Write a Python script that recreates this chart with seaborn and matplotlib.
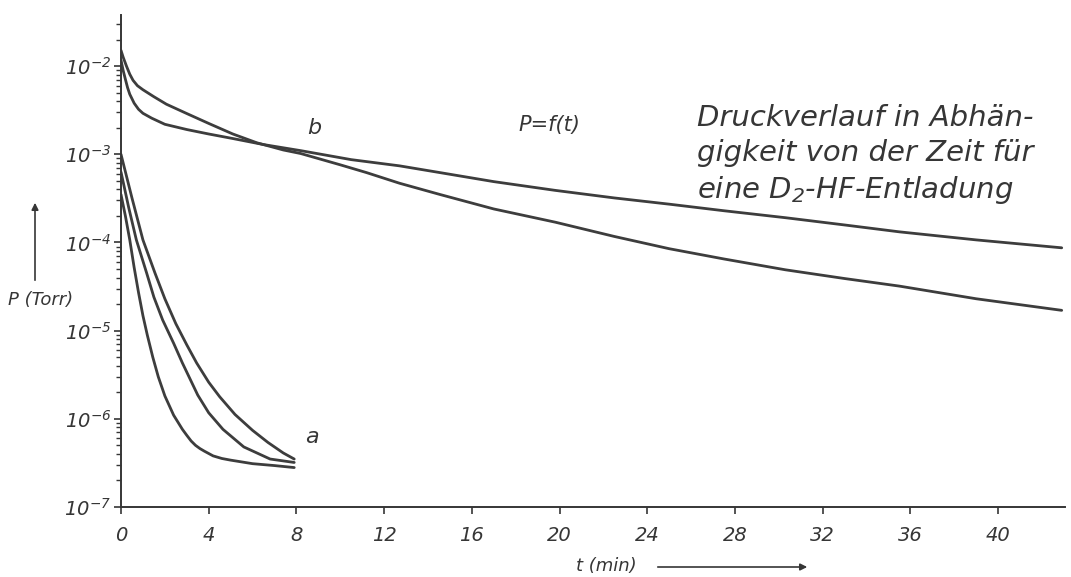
import numpy as np
import pandas as pd
import matplotlib
matplotlib.use("Agg")
import matplotlib.pyplot as plt
from matplotlib.ticker import FixedLocator, FuncFormatter, LogLocator, NullFormatter
import seaborn as sns

# ---- data (t in min, P in Torr) ----
t_b1 = [0, 0.1, 0.25, 0.4, 0.55, 0.75, 1.0, 1.5, 2.07, 3.0, 4.0, 5.1, 6.2, 7.4, 8.2, 10.0,
        11.2, 12.7, 14.55, 17.0, 19.8, 22.5, 25.0, 27.5, 30.3, 33.0, 35.5, 39.0, 42.9]
p_b1 = [1.51e-2, 1.26e-2, 1.0e-2, 8.1e-3, 6.9e-3, 6.0e-3, 5.4e-3, 4.5e-3, 3.7e-3, 2.9e-3,
        2.24e-3, 1.70e-3, 1.35e-3, 1.12e-3, 1.02e-3, 7.6e-4, 6.2e-4, 4.7e-4, 3.5e-4, 2.4e-4,
        1.70e-4, 1.17e-4, 8.5e-5, 6.5e-5, 4.9e-5, 3.9e-5, 3.2e-5, 2.3e-5, 1.7e-5]

t_b2 = [0, 0.1, 0.2, 0.3, 0.4, 0.6, 0.8, 1.0, 1.4, 2.0, 3.0, 4.0, 5.1, 6.5, 8.2, 10.5, 12.7,
        14.55, 17.0, 19.8, 22.5, 25.0, 27.5, 30.3, 33.0, 35.5, 39.0, 42.9]
p_b2 = [1.17e-2, 8.9e-3, 7.1e-3, 5.7e-3, 4.8e-3, 3.8e-3, 3.24e-3, 2.92e-3, 2.57e-3, 2.19e-3,
        1.91e-3, 1.70e-3, 1.51e-3, 1.29e-3, 1.10e-3, 8.7e-4, 7.4e-4, 6.2e-4, 4.9e-4, 3.9e-4,
        3.2e-4, 2.72e-4, 2.29e-4, 1.91e-4, 1.58e-4, 1.32e-4, 1.07e-4, 8.7e-5]

t_a1 = [0, 0.2, 0.4, 0.6, 0.8, 1.0, 1.2, 1.45, 1.7, 2.0, 2.4, 2.8, 3.0, 3.2, 3.4, 3.6, 3.8,
        4.2, 4.6, 5.0, 6.0, 7.0, 7.9]
p_a1 = [3.5e-4, 2.0e-4, 1.07e-4, 5.2e-5, 2.7e-5, 1.48e-5, 8.9e-6, 5.0e-6, 3.0e-6, 1.82e-6,
        1.10e-6, 7.6e-7, 6.5e-7, 5.6e-7, 5.0e-7, 4.6e-7, 4.3e-7, 3.8e-7, 3.55e-7, 3.4e-7,
        3.1e-7, 2.95e-7, 2.8e-7]

t_a2 = [0, 0.35, 0.7, 1.17, 1.5, 1.9, 2.4, 2.8, 3.5, 4.0, 4.65, 5.6, 6.8, 7.9]
p_a2 = [6.3e-4, 2.5e-4, 1.07e-4, 4.5e-5, 2.4e-5, 1.32e-5, 7.2e-6, 4.3e-6, 1.86e-6, 1.17e-6,
        7.6e-7, 4.8e-7, 3.5e-7, 3.2e-7]

t_a3 = [0, 0.5, 1.0, 1.55, 2.0, 2.5, 3.0, 3.45, 4.0, 4.5, 5.2, 6.0, 6.7, 7.4, 7.9]
p_a3 = [1.0e-3, 3.2e-4, 1.07e-4, 4.5e-5, 2.3e-5, 1.2e-5, 6.9e-6, 4.3e-6, 2.6e-6, 1.78e-6,
        1.12e-6, 7.4e-7, 5.4e-7, 4.1e-7, 3.5e-7]

x_ticks = [0, 4, 8, 12, 16, 20, 24, 28, 32, 36, 40]
y_ticks = [1e-7, 1e-6, 1e-5, 1e-4, 1e-3, 1e-2]

curves = {"b1": (t_b1, p_b1), "b2": (t_b2, p_b2),
          "a1": (t_a1, p_a1), "a2": (t_a2, p_a2), "a3": (t_a3, p_a3)}
df = pd.concat([pd.DataFrame({"t": t, "P": p, "curve": k}) for k, (t, p) in curves.items()],
               ignore_index=True)

# ---- style ----
sns.set_style("ticks")
plt.rcParams["font.family"] = ["DejaVu Sans"]
plt.rcParams["font.style"] = "italic"
plt.rcParams["mathtext.fontset"] = "custom"
plt.rcParams["mathtext.it"] = "DejaVu Sans:italic"
plt.rcParams["mathtext.rm"] = "DejaVu Sans:italic"
plt.rcParams["mathtext.default"] = "it"

ink = "#363636"
line_col = "#3d3d3d"

fig = plt.figure(figsize=(10.71, 5.77), dpi=100)
ax = fig.add_axes([121 / 1071, 1 - 507 / 577, (1065 - 121) / 1071, (507 - 15) / 577])

sns.lineplot(data=df, x="t", y="P", units="curve", estimator=None, sort=False,
             color=line_col, lw=2.0, ax=ax)

ax.set_yscale("log")
ax.set_xlim(0, 43.05)
ax.set_ylim(1e-7, 10 ** -1.42)

ax.xaxis.set_major_locator(FixedLocator(x_ticks))
ax.yaxis.set_major_locator(FixedLocator(y_ticks))
ax.yaxis.set_minor_locator(LogLocator(base=10, subs=np.arange(2, 10), numticks=20))
ax.yaxis.set_minor_formatter(NullFormatter())
ax.yaxis.set_major_formatter(FuncFormatter(
    lambda v, _: r"$\mathit{10^{%d}}$" % int(round(np.log10(v)))))
ax.xaxis.set_major_formatter(FuncFormatter(lambda v, _: "%d" % v))

ax.tick_params(axis="both", which="major", direction="out", length=5, width=1.2,
               colors=ink, labelsize=14)
ax.tick_params(axis="x", which="major", pad=9)
ax.tick_params(axis="y", which="major", pad=2)
ax.tick_params(axis="y", which="minor", direction="out", length=3.5, width=1.0, colors=ink)
ax.tick_params(axis="x", which="minor", bottom=False)

for s in ["top", "right"]:
    ax.spines[s].set_visible(False)
for s in ["left", "bottom"]:
    ax.spines[s].set_color(ink)
    ax.spines[s].set_linewidth(1.4)

ax.set_xlabel("")
ax.set_ylabel("")

# annotations
ax.text(8.8, 2.0e-3, "b", fontsize=16, color=ink, ha="center", va="center")
ax.text(8.7, 6.2e-7, "a", fontsize=16, color=ink, ha="center", va="center")
fig.text(0.513, 0.783, "P=f(t)", fontsize=15, color=ink, ha="center", va="center")
fig.text(697 / 1071, 1 - 104 / 577,
         "Druckverlauf in Abhän-\ngigkeit von der Zeit für\neine $D_2$-HF-Entladung",
         fontsize=21, color=ink, ha="left", va="top", linespacing=1.3)

# axis labels with arrows
fig.text(8 / 1071, 1 - 300 / 577, "P (Torr)", fontsize=13, color=ink, ha="left", va="center")
fig.patches.append(matplotlib.patches.FancyArrowPatch(
    (35 / 1071, 1 - 283 / 577), (35 / 1071, 1 - 200 / 577), transform=fig.transFigure,
    arrowstyle="-|>", mutation_scale=10, color=ink, lw=1.2))
fig.text(606 / 1071, 1 - 566 / 577, "t (min)", fontsize=13, color=ink, ha="center", va="center")
fig.patches.append(matplotlib.patches.FancyArrowPatch(
    (655 / 1071, 1 - 567 / 577), (810 / 1071, 1 - 567 / 577), transform=fig.transFigure,
    arrowstyle="-|>", mutation_scale=10, color=ink, lw=1.2))

fig.savefig("out.png", dpi=100)
